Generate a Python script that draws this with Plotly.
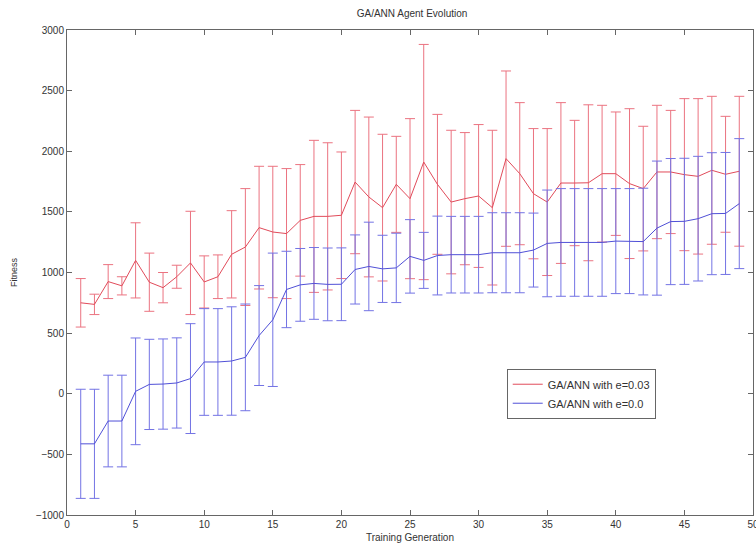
import plotly.graph_objects as go

generations = list(range(1, 50))

red_mean = [750, 737, 925, 890, 1100, 920, 875, 965, 1079, 922,
            965, 1150, 1210, 1370, 1334, 1321, 1430, 1463, 1463, 1472,
            1746, 1623, 1535, 1727, 1609, 1911, 1727, 1581, 1609, 1631,
            1535, 1939, 1815, 1650, 1581, 1738, 1738, 1740, 1815, 1815,
            1733, 1692, 1829, 1829, 1807, 1793, 1843, 1810, 1835]
red_err = [200, 84, 140, 75, 310, 240, 125, 95, 426, 215,
           180, 360, 482, 506, 542, 536, 460, 627, 607, 522,
           591, 659, 605, 396, 660, 970, 577, 592, 545, 589,
           638, 723, 586, 537, 606, 663, 517, 643, 564, 509,
           618, 514, 550, 508, 627, 641, 610, 478, 618]

blue_mean = [-413, -413, -225, -225, 20, 77, 80, 89, 125, 262,
             262, 270, 300, 480, 610, 860, 898, 910, 902, 903,
             1025, 1050, 1030, 1038, 1133, 1100, 1140, 1147, 1147, 1147,
             1163, 1163, 1163, 1185, 1240, 1248, 1248, 1248, 1248, 1259,
             1259, 1255, 1366, 1420, 1422, 1444, 1485, 1487, 1568]
blue_err = [450, 450, 378, 378, 440, 372, 372, 372, 453, 440,
            440, 447, 440, 412, 550, 315, 300, 296, 300, 300,
            285, 365, 277, 286, 303, 231, 325, 316, 316, 316,
            330, 330, 330, 305, 440, 444, 444, 444, 444, 433,
            433, 440, 553, 520, 520, 514, 503, 503, 536]

series_names = ["GA/ANN with e=0.03", "GA/ANN with e=0.0"]
title_text = "GA/ANN Agent Evolution"
x_title = "Training Generation"
y_title = "Fitness"

RED_LINE = "rgb(225,75,90)"
RED_BAR = "rgb(235,115,128)"
BLUE_LINE = "rgb(80,80,215)"
BLUE_BAR = "rgb(115,115,228)"
AXIS = "#666"
TEXT = "#333"
FONT = "Liberation Sans, Arial, sans-serif"

W, H = 756, 545

fig = go.Figure()
fig.add_trace(go.Scatter(
    x=generations, y=red_mean, mode="lines", name=series_names[0],
    line=dict(color=RED_LINE, width=1),
    error_y=dict(type="data", array=red_err, visible=True,
                 color=RED_BAR, thickness=1, width=5),
))
fig.add_trace(go.Scatter(
    x=generations, y=blue_mean, mode="lines", name=series_names[1],
    line=dict(color=BLUE_LINE, width=1),
    error_y=dict(type="data", array=blue_err, visible=True,
                 color=BLUE_BAR, thickness=1, width=5),
))

axis_common = dict(
    showline=True, mirror="ticks", linecolor=AXIS, linewidth=1,
    ticks="inside", ticklen=5, tickcolor=AXIS, showgrid=False,
    zeroline=False, automargin=False, ticklabeloverflow="allow",
    tickfont=dict(family=FONT, size=10, color=TEXT),
)

fig.update_layout(
    width=W, height=H,
    margin=dict(l=67, r=3, t=30, b=30, autoexpand=False),
    paper_bgcolor="white", plot_bgcolor="white",
    title=dict(text=title_text, x=0.545, xanchor="center", xref="container",
               yref="container", y=1 - 13 / H, yanchor="middle",
               font=dict(family=FONT, size=10, color=TEXT)),
    xaxis=dict(range=[0, 50], dtick=5, tick0=0,
               title=dict(text=x_title, standoff=4,
                          font=dict(family=FONT, size=10, color=TEXT)),
               **axis_common),
    yaxis=dict(range=[-1000, 3000], dtick=500, tick0=0,
               title=dict(text=y_title, standoff=16,
                          font=dict(family=FONT, size=9, color=TEXT)),
               **axis_common),
    legend=dict(x=0.641, y=0.3016, xanchor="left", yanchor="top",
                bgcolor="white", bordercolor=AXIS, borderwidth=1,
                font=dict(family=FONT, size=11, color=TEXT),
                tracegroupgap=0, itemwidth=30),
    showlegend=True,
)

fig.write_html(
    "out.html",
    config={"displayModeBar": False},
    post_script="document.body.style.margin='0';"
                "document.body.style.overflow='hidden';",
)
